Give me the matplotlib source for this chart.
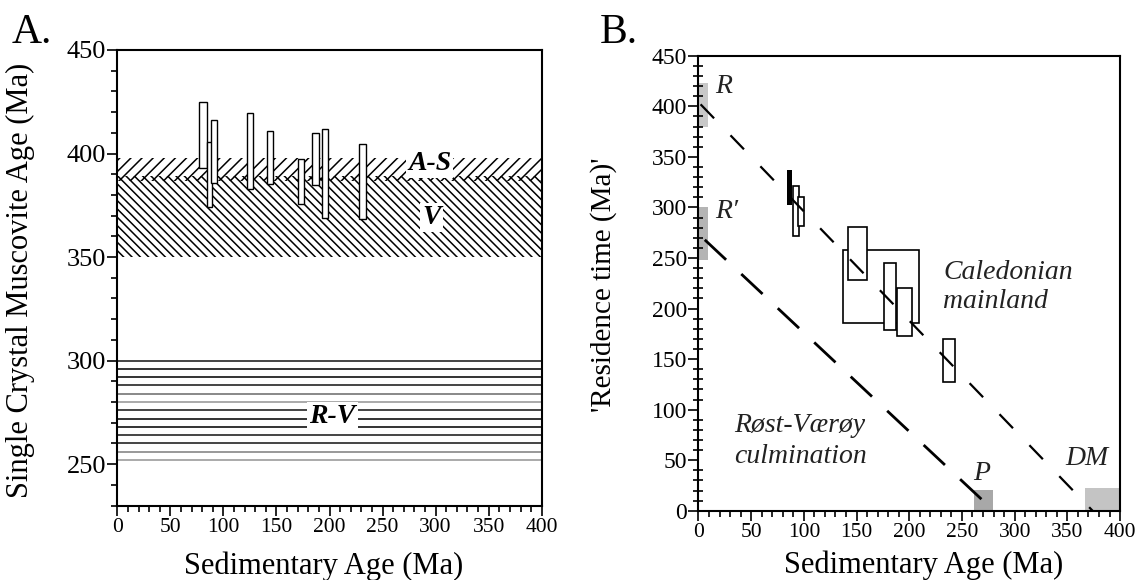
import matplotlib.pyplot as plt
from matplotlib.ticker import MultipleLocator

# ---- panel A data ----
# single crystal muscovite age ranges (x from-to, age low-high)
a_left = [77.3, 84.3, 88.3, 122.5, 141.4, 170.0, 183.5, 192.6, 228.0]
a_right = [84.3, 89.0, 94.2, 128.2, 147.0, 176.0, 190.2, 198.9, 234.4]
a_low = [393, 374, 386, 383, 385.5, 375.5, 384.7, 369, 368.6]
a_high = [425, 405.6, 416.4, 419.4, 411, 397.2, 409.7, 412, 404.8]

as_band = (386.5, 398)      # A-S
v_band = (350, 389)         # V
rv_levels = [300, 296, 292, 288, 284, 280, 276, 272, 268, 264, 260, 256, 252]
rv_colors = ['#444', '#333', '#333', '#444', '#888', '#aaa', '#444',
             '#333', '#333', '#444', '#444', '#999', '#aaa']

# ---- panel B data ----
# gray reference blocks: R, R', P, DM
g_left = [0.8, 0.8, 261.4, 366.7]
g_right = [9.3, 8.6, 279.0, 400.0]
g_low = [379.3, 248.5, 0, 0]
g_high = [423.4, 300, 20.6, 22.3]
g_colors = ['#c8c8c8', '#b4b4b4', '#a8a8a8', '#c4c4c4']

# open boxes (big one first so the others sit on top)
b_left = [136.8, 141.6, 176.3, 188.6, 232.3, 89.9, 94.7]
b_right = [209.5, 159.6, 187.1, 202.6, 243.4, 95.4, 100.1]
b_low = [185.6, 228.3, 178.9, 173.0, 127.3, 271.8, 281.8]
b_high = [258.0, 280.4, 244.8, 220.0, 169.6, 321.3, 310.7]
# solid black box
k_box = (84.3, 89.0, 302, 337)

line1_x = [2, 374]
line1_y = [402, 0]
line2_x = [6, 270]
line2_y = [268, 10]

plt.rcParams['font.family'] = ['Liberation Serif', 'DejaVu Serif']
plt.rcParams['hatch.linewidth'] = 1.1
plt.rcParams['lines.scale_dashes'] = False

fig = plt.figure(figsize=(11.4, 5.8), dpi=100)
axA = fig.add_axes([0.1029, 0.1284, 0.3723, 0.7854])
axB = fig.add_axes([0.6127, 0.1193, 0.3698, 0.7845])

for ax in (axA, axB):
    ax.set_xlim(0, 400)
    ax.xaxis.set_major_locator(MultipleLocator(50))
    ax.xaxis.set_minor_locator(MultipleLocator(10))
    ax.yaxis.set_major_locator(MultipleLocator(50))
    ax.yaxis.set_minor_locator(MultipleLocator(10))
    for s in ax.spines.values():
        s.set_linewidth(1.5)
    ax.tick_params(which='major', direction='out', length=7, width=1.2)
    ax.tick_params(which='minor', direction='out', length=4, width=1.2)
    ax.tick_params(axis='x', labelsize=15.5, pad=2)

# ---- A ----
axA.set_ylim(230, 450)
axA.tick_params(axis='y', labelsize=19, pad=1)
axA.axhspan(*v_band, facecolor='none', edgecolor='k', hatch='\\\\\\\\', linewidth=0, zorder=1)
axA.axhspan(*as_band, facecolor='none', edgecolor='k', hatch='///', linewidth=0, zorder=1)
for lev, c in zip(rv_levels, rv_colors):
    axA.axhline(lev, color=c, linewidth=1.4, zorder=1)
axA.bar(a_left, [h - l for h, l in zip(a_high, a_low)],
        width=[r - l for r, l in zip(a_right, a_left)], bottom=a_low,
        align='edge', facecolor='white', edgecolor='k', linewidth=1.0, zorder=3)

lab_kw = dict(ha='center', va='baseline', fontsize=20, fontweight='bold',
              fontstyle='italic', zorder=4,
              bbox=dict(facecolor='white', edgecolor='none', pad=1.5))
axA.text(294.6, 392, 'A-S', **lab_kw)
axA.text(296, 366, 'V', **lab_kw)
axA.text(202.8, 269.7, 'R-V', **lab_kw)

axA.set_xlabel('Sedimentary Age (Ma)', fontsize=22)
axA.set_ylabel('Single Crystal Muscovite Age (Ma)', fontsize=22)
axA.xaxis.set_label_coords(0.485, -0.102)
axA.yaxis.set_label_coords(-0.195, 0.495)

# ---- B ----
axB.set_ylim(0, 450)
axB.tick_params(axis='y', labelsize=17, pad=1)
axB.tick_params(axis='y', which='minor', direction='inout', length=7)
axB.bar(g_left, [h - l for h, l in zip(g_high, g_low)],
        width=[r - l for r, l in zip(g_right, g_left)], bottom=g_low,
        align='edge', color=g_colors, linewidth=0, zorder=1)
axB.bar(b_left, [h - l for h, l in zip(b_high, b_low)],
        width=[r - l for r, l in zip(b_right, b_left)], bottom=b_low,
        align='edge', facecolor='white', edgecolor='k', linewidth=1.2, zorder=2)
axB.bar(k_box[0], k_box[3] - k_box[2], width=k_box[1] - k_box[0], bottom=k_box[2],
        align='edge', color='k', linewidth=0, zorder=2)
axB.plot(line1_x, line1_y, color='k', linewidth=1.6, dashes=[14, 17], zorder=3)
axB.plot(line2_x, line2_y, color='k', linewidth=2.0, dashes=[21, 15], zorder=3)

it_kw = dict(fontsize=20, fontstyle='italic', va='baseline', color='#222')
axB.text(15.7, 413, 'R', **it_kw)
axB.text(15.7, 290, 'R\u2032', **it_kw)
axB.text(232.4, 229.6, 'Caledonian', **it_kw)
axB.text(232.4, 200.8, 'mainland', **it_kw)
axB.text(33.6, 78, 'Røst-Værøy', **it_kw)
axB.text(33.6, 47, 'culmination', **it_kw)
axB.text(260.7, 30.5, 'P', **it_kw)
axB.text(347.7, 45.3, 'DM', **it_kw)

axB.set_xlabel('Sedimentary Age (Ma)', fontsize=22)
axB.set_ylabel("'Residence time (Ma)'", fontsize=21)
axB.xaxis.set_label_coords(0.534, -0.088)
axB.yaxis.set_label_coords(-0.193, 0.496)

fig.text(12 / 1140, 1 - 43 / 580, 'A.', fontsize=30, va='baseline')
fig.text(600 / 1140, 1 - 43 / 580, 'B.', fontsize=30, va='baseline')

fig.savefig('out.png', dpi=100)
